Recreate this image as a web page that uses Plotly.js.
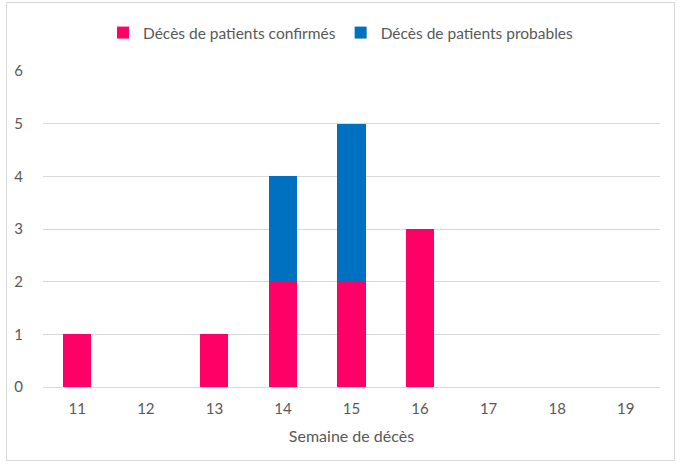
<!DOCTYPE html>
<html><head><meta charset="utf-8">
<script src="https://cdn.plot.ly/plotly-3.0.1.min.js"></script>
<style>
html,body{margin:0;padding:0;background:#fff;}
#frame{position:absolute;left:6px;top:2px;width:669px;height:459px;border:1px solid #d9d9d9;box-sizing:border-box;}
#chart{position:absolute;left:0;top:0;width:681px;height:465px;}
</style></head>
<body>
<div id="frame"></div>
<div id="chart"></div>
<script>
const weeks = ['11','12','13','14','15','16','17','18','19'];
const confirmed = [1,0,1,2,2,3,0,0,0];
const probable = [0,0,0,2,3,0,0,0,0];
const yTicks = [0,1,2,3,4,5,6];

const font = 'Lato, Carlito, "Open Sans", sans-serif';
const data = [
  {type:'bar', x:weeks, y:confirmed, name:'Décès de patients confirmés',
   marker:{color:'#FF0066', line:{width:0}}},
  {type:'bar', x:weeks, y:probable, name:'Décès de patients probables',
   marker:{color:'#0070C0', line:{width:0}}}
];
const layout = {
  width:681, height:465,
  barmode:'stack', bargap:0.59,
  paper_bgcolor:'rgba(0,0,0,0)', plot_bgcolor:'rgba(0,0,0,0)',
  margin:{l:43, r:21, t:71, b:78, autoexpand:false},
  font:{family:font, color:'#595959', size:15},
  showlegend:true,
  legend:{orientation:'h', x:0.5, xref:'container', xanchor:'center', y:1-33/465, yref:'container', yanchor:'middle',
          font:{size:15.5, color:'#595959'}, traceorder:'normal', itemwidth:30},
  xaxis:{type:'category', showgrid:false, showline:true, linecolor:'#d9d9d9', linewidth:1,
         ticks:'', tickfont:{size:15}, ticklen:0, ticklabelstandoff:8,
         title:{text:'Semaine de décès', font:{size:16, color:'#595959'}, standoff:14}},
  yaxis:{range:[0,6], tickvals:yTicks, showgrid:true, gridcolor:'#d9d9d9', gridwidth:1,
         zeroline:false, showline:false, ticks:'', ticklen:0, tickfont:{size:15}, ticklabelstandoff:19},
};
Plotly.newPlot('chart', data, layout, {displayModeBar:false, staticPlot:true});
</script>
</body></html>
